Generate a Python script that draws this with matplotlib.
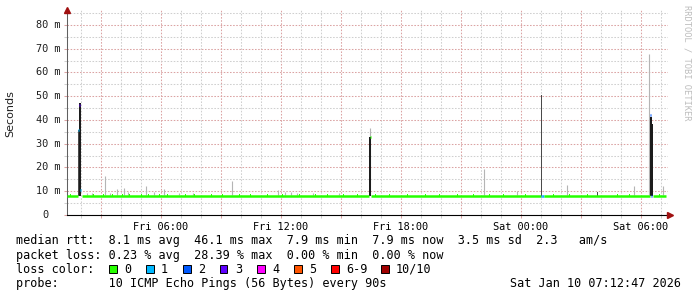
import matplotlib
matplotlib.use("Agg")
import matplotlib.pyplot as plt
from matplotlib.patches import Rectangle

# time is in hours since Fri 00:00
t_start, t_end = 1.3, 31.35
tick_hours = [6, 12, 18, 24, 30]
tick_labels = ["Fri 06:00", "Fri 12:00", "Fri 18:00", "Sat 00:00", "Sat 06:00"]
ytick_ms = [0, 10, 20, 30, 40, 50, 60, 70, 80]
ytick_labels = ["0", "10 m", "20 m", "30 m", "40 m", "50 m", "60 m", "70 m", "80 m"]
y_max = 86.3

# light smoke spikes (hour, top in ms)
smoke_t = [2.32, 2.53, 3.22, 3.45, 3.82, 4.17, 4.37, 5.24, 5.67, 6.17, 6.9, 7.6,
           9.57, 11.87, 12.2, 12.5, 12.8, 13.6, 14.9, 16.45, 22.15, 23.8, 26.3,
           29.65, 30.4, 31.1]
smoke_top = [9.4, 9.4, 16.4, 9.4, 10.8, 11.2, 9.6, 12.2, 9.5, 10.8, 9.3, 9.2,
             14.3, 10.5, 9.8, 9.8, 9.4, 9.2, 9.3, 36.8, 19.4, 10.2, 12.6,
             12.3, 67.8, 12.0]

# dark smoke bars (start hour, end hour, top ms, shade 0=black 1=dark grey)
bar_t0 = [1.835, 1.915, 16.385, 24.985, 27.78, 30.45, 30.565]
bar_t1 = [1.915, 2.0, 16.5, 25.065, 27.83, 30.565, 30.6]
bar_top = [35.8, 47.0, 33.0, 50.5, 9.8, 41.4, 38.3]
bar_shade = [1, 0, 0, 1, 1, 0, 0]

# median rtt steps (start hour, end hour, ms, loss bucket)
med_t0 = [1.30, 1.84, 1.92, 1.97, 2.05, 16.43, 16.52, 24.99, 25.07, 25.15, 30.47, 30.51, 30.60]
med_t1 = [1.84, 1.88, 1.97, 2.02, 16.38, 16.50, 24.99, 25.07, 25.15, 30.45, 30.52, 30.55, 31.23]
med_ms = [7.8, 35.8, 46.5, 10.5, 7.8, 33.0, 7.8, 7.8, 7.8, 7.8, 42.0, 7.8, 7.8]
med_loss = [0, 1, 3, 1, 0, 0, 0, 2, 1, 0, 2, 2, 0]

# small upward bumps of the median line
bump_t = [1.45, 2.6, 3.1, 3.55, 4.05, 4.4, 5.0, 5.35, 5.9, 6.3, 7.2, 7.65, 8.5,
          9.05, 9.9, 10.45, 11.3, 12.05, 12.9, 13.7, 14.3, 15.1, 15.8, 16.7,
          17.4, 18.3, 19.2, 19.9, 20.8, 21.6, 22.4, 23.1, 24.2, 25.6, 26.4,
          27.3, 28.8, 29.4, 30.9]

loss_labels = ["0", "1", "2", "3", "4", "5", "6-9", "10/10"]
loss_colors = ["#26ff00", "#00b8ff", "#0059ff", "#5e00ff", "#ff00ff",
               "#ff5500", "#ff0000", "#a00000"]
shade_colors = ["#1c1c1c", "#4a4a4a"]

legend_lines = [
    "median rtt:  8.1 ms avg  46.1 ms max  7.9 ms min  7.9 ms now  3.5 ms sd  2.3   am/s",
    "packet loss: 0.23 % avg  28.39 % max  0.00 % min  0.00 % now",
    "loss color:",
    "probe:       10 ICMP Echo Pings (56 Bytes) every 90s",
]
stamp = "Sat Jan 10 07:12:47 2026"

W, H = 697, 297
mono = "DejaVu Sans Mono"
fig = plt.figure(figsize=(W / 100, H / 100), dpi=100)
fig.patch.set_facecolor("white")
ax = fig.add_axes([67 / W, 1 - 215 / H, (668 - 67) / W, (215 - 10) / H])

ax.set_xlim(t_start, t_end)
ax.set_ylim(0, y_max)

# grid
dots = (0, (1.5, 1.5))
major_x = [h for h in range(3, 32, 3)]
minor_x = [h for h in range(2, 32) if h % 3 != 0]
ax.set_xticks(major_x)
ax.set_xticks(minor_x, minor=True)
ax.set_xticklabels([tick_labels[tick_hours.index(h)] if h in tick_hours else "" for h in major_x],
                   fontfamily=mono, fontsize=7.4)
ax.set_yticks(ytick_ms)
ax.set_yticks([5, 15, 25, 35, 45, 55, 65, 75, 85], minor=True)
ax.set_yticklabels([])
ax.grid(which="major", color="#dba3a3", linestyle=dots, linewidth=0.75)
ax.grid(which="minor", color="#cfcfcf", linestyle=dots, linewidth=0.75)
ax.tick_params(which="major", length=2.2, width=0.75, color="#dba3a3", pad=2.5)
ax.tick_params(which="minor", length=2.2, width=0.75, color="#cfcfcf")
ax.set_axisbelow(True)

for side in ["top", "right"]:
    ax.spines[side].set_visible(False)
ax.spines["left"].set_color("#606060")
ax.spines["left"].set_linewidth(0.75)
ax.spines["bottom"].set_color("black")
ax.spines["bottom"].set_linewidth(0.8)

# y tick labels, left aligned like rrdtool
for v, lab in zip(ytick_ms, ytick_labels):
    x = -31 / 601 if lab != "0" else -24.8 / 601
    ax.text(x, v, lab, transform=ax.get_yaxis_transform(), ha="left", va="center",
            fontfamily=mono, fontsize=7.4, color="#202020")

# smoke
ax.vlines(smoke_t, 8.4, smoke_top, color="#b4b4b4", linewidth=0.8, zorder=2)
for t0, t1, top, s in zip(bar_t0, bar_t1, bar_top, bar_shade):
    ax.bar(t0, top - 7.8, width=t1 - t0, bottom=7.8, align="edge",
           color=shade_colors[s], linewidth=0, zorder=3)

# median line coloured by loss
ax.hlines(med_ms, med_t0, med_t1, colors=[loss_colors[i] for i in med_loss],
          linewidth=1.8, zorder=4)
ax.hlines([8.25] * len(bump_t), bump_t, [t + 0.06 for t in bump_t],
          colors=loss_colors[0], linewidth=1.4, zorder=4)

# axis arrows
ax.plot([t_start], [y_max], marker="^", color="#a01010", markersize=4,
        clip_on=False, zorder=6)
ax.plot([t_end + 0.1], [0], marker=">", color="#a01010", markersize=4,
        clip_on=False, zorder=6)

fig.text(10.5 / W, 1 - 114 / H, "Seconds", rotation=90, ha="center", va="center",
         fontsize=8, color="#202020")
fig.text(687 / W, 1 - 5 / H, "RRDTOOL / TOBI OETIKER", rotation=-90, ha="center",
         va="top", fontfamily=mono, fontsize=6.3, color="#bdbdbd")

# legend block
baselines = [244.3, 258.8, 272.7, 286.7]
for line, yb in zip(legend_lines, baselines):
    fig.text(16 / W, 1 - yb / H, line, ha="left", va="baseline",
             fontfamily=mono, fontsize=8.5, color="black")
fig.text(681 / W, 1 - baselines[3] / H, stamp, ha="right", va="baseline",
         fontfamily=mono, fontsize=8.5, color="black")

sq_x = [109, 146, 183, 220, 257, 294, 331, 381]
for x, lab, c in zip(sq_x, loss_labels, loss_colors):
    fig.patches.append(Rectangle((x / W, 1 - 272.7 / H), 7.5 / W, 7.7 / H,
                                 transform=fig.transFigure, facecolor=c,
                                 edgecolor="black", linewidth=0.7))
    fig.text((x + 15) / W, 1 - baselines[2] / H, lab, ha="left", va="baseline",
             fontfamily=mono, fontsize=8.5, color="black")

fig.savefig("out.png", dpi=100)
